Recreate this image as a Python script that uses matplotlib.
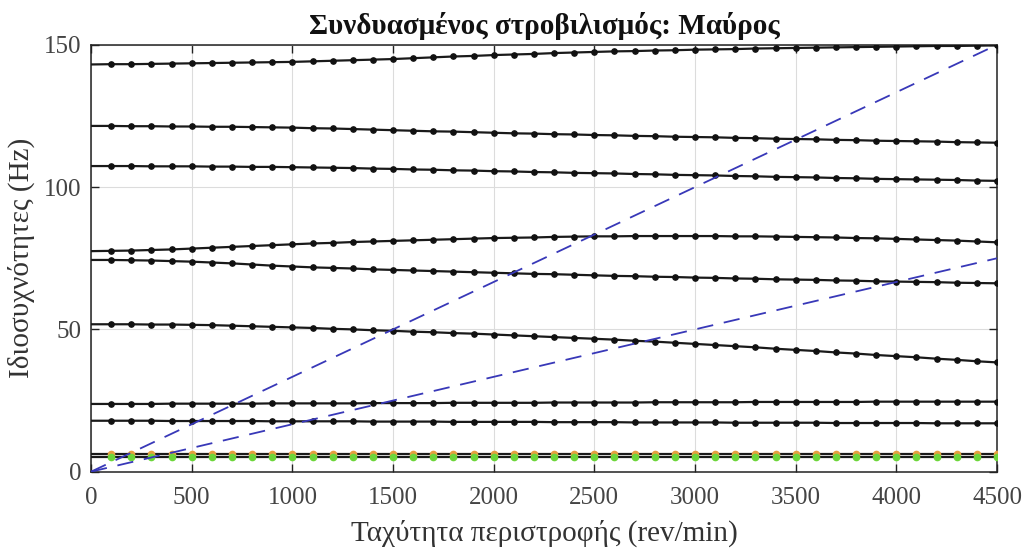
import matplotlib
matplotlib.use("Agg")
import matplotlib.pyplot as plt

plt.rcParams['font.family'] = ['Liberation Serif', 'DejaVu Serif']

# rotor speed grid (rev/min)
rpm = list(range(0, 4501, 100))

# natural frequencies (Hz) per mode, one value every 100 rev/min
mode_1 = [5.2, 5.2, 5.2, 5.2, 5.2, 5.2, 5.2, 5.2, 5.2, 5.2, 5.2, 5.2, 5.2, 5.2, 5.2, 5.2,
          5.2, 5.2, 5.2, 5.2, 5.2, 5.2, 5.2, 5.2, 5.2, 5.2, 5.2, 5.2, 5.2, 5.2, 5.2, 5.2,
          5.2, 5.2, 5.2, 5.2, 5.2, 5.2, 5.2, 5.2, 5.2, 5.2, 5.2, 5.2, 5.2, 5.2]
mode_2 = [6.2, 6.2, 6.2, 6.2, 6.2, 6.2, 6.2, 6.2, 6.2, 6.2, 6.2, 6.2, 6.2, 6.2, 6.2, 6.2,
          6.2, 6.2, 6.2, 6.2, 6.2, 6.2, 6.2, 6.2, 6.2, 6.2, 6.2, 6.2, 6.2, 6.2, 6.2, 6.2,
          6.2, 6.2, 6.2, 6.2, 6.2, 6.2, 6.2, 6.2, 6.2, 6.2, 6.2, 6.2, 6.2, 6.2]
mode_3 = [17.9, 17.9, 17.9, 17.9, 17.8, 17.8,
          17.8, 17.8, 17.8, 17.7, 17.7,
          17.7, 17.7, 17.7, 17.6, 17.6,
          17.6, 17.6, 17.5, 17.5, 17.5,
          17.5, 17.5, 17.4, 17.4, 17.4,
          17.4, 17.3, 17.3, 17.3, 17.3,
          17.3, 17.2, 17.2, 17.2, 17.2,
          17.2, 17.1, 17.1, 17.1, 17.1,
          17.1, 17.0, 17.0, 17.0, 17.0]
mode_4 = [23.8, 23.8, 23.8, 23.8, 23.9, 23.9,
          23.9, 23.9, 23.9, 24.0, 24.0,
          24.0, 24.0, 24.0, 24.1, 24.1,
          24.1, 24.1, 24.2, 24.2, 24.2,
          24.2, 24.2, 24.3, 24.3, 24.3,
          24.3, 24.3, 24.4, 24.4, 24.4,
          24.4, 24.4, 24.5, 24.5, 24.5,
          24.5, 24.5, 24.5, 24.6, 24.6,
          24.6, 24.6, 24.6, 24.6, 24.6]
mode_5 = [51.8, 51.8, 51.8, 51.7, 51.7, 51.6,
          51.5, 51.3, 51.1, 50.9, 50.7,
          50.5, 50.2, 50.0, 49.7, 49.5,
          49.2, 49.0, 48.7, 48.5, 48.2,
          47.9, 47.6, 47.3, 47.0, 46.7,
          46.4, 46.0, 45.7, 45.3, 44.9,
          44.5, 44.1, 43.7, 43.2, 42.8,
          42.4, 41.9, 41.5, 41.0, 40.6,
          40.2, 39.7, 39.3, 38.8, 38.4]
mode_6 = [74.4, 74.4, 74.3, 74.2, 74.0, 73.8,
          73.5, 73.2, 72.8, 72.4, 72.1,
          71.8, 71.6, 71.4, 71.1, 70.9,
          70.7, 70.5, 70.3, 70.1, 69.9,
          69.7, 69.5, 69.4, 69.2, 69.0,
          68.8, 68.7, 68.5, 68.4, 68.2,
          68.1, 67.9, 67.8, 67.6, 67.5,
          67.4, 67.2, 67.1, 66.9, 66.8,
          66.7, 66.6, 66.4, 66.3, 66.2]
mode_7 = [77.5, 77.6, 77.7, 77.9, 78.1, 78.4,
          78.7, 79.0, 79.3, 79.6, 79.9,
          80.2, 80.4, 80.7, 80.9, 81.1,
          81.3, 81.5, 81.7, 81.9, 82.1,
          82.2, 82.3, 82.5, 82.6, 82.7,
          82.7, 82.8, 82.8, 82.8, 82.8,
          82.8, 82.7, 82.7, 82.6, 82.5,
          82.4, 82.3, 82.1, 82.0, 81.8,
          81.6, 81.4, 81.2, 80.9, 80.6]
mode_8 = [107.4, 107.4, 107.4, 107.3, 107.3, 107.3,
          107.2, 107.2, 107.1, 107.1, 107.0,
          106.9, 106.8, 106.7, 106.5, 106.4,
          106.2, 106.1, 105.9, 105.8, 105.6,
          105.5, 105.3, 105.2, 105.0, 104.9,
          104.8, 104.6, 104.5, 104.3, 104.2,
          104.1, 103.9, 103.8, 103.6, 103.5,
          103.4, 103.2, 103.1, 102.9, 102.8,
          102.7, 102.6, 102.5, 102.3, 102.2]
mode_9 = [121.5, 121.5, 121.4, 121.4, 121.3, 121.3,
          121.2, 121.2, 121.1, 121.0, 120.9,
          120.7, 120.6, 120.4, 120.2, 120.0,
          119.8, 119.6, 119.5, 119.3, 119.1,
          118.9, 118.8, 118.6, 118.5, 118.3,
          118.2, 118.0, 117.9, 117.7, 117.6,
          117.5, 117.3, 117.2, 117.0, 116.9,
          116.8, 116.6, 116.5, 116.3, 116.2,
          116.1, 116.0, 115.8, 115.7, 115.6]
mode_10 = [143.1, 143.2, 143.2, 143.3, 143.4, 143.5,
           143.6, 143.7, 143.8, 143.9, 144.0,
           144.2, 144.4, 144.6, 144.8, 145.0,
           145.3, 145.6, 145.9, 146.1, 146.4,
           146.6, 146.8, 147.1, 147.3, 147.5,
           147.7, 147.8, 148.0, 148.1, 148.3,
           148.4, 148.5, 148.7, 148.8, 148.9,
           149.0, 149.1, 149.2, 149.3, 149.4,
           149.5, 149.6, 149.6, 149.7, 149.8]

# excitation lines 1X and 2X
speed_ends = [0, 4500]
excitation_1x = [0, 75]
excitation_2x = [0, 150]

fig = plt.figure(figsize=(10.23, 5.5), dpi=100)
ax = fig.add_axes([0.089, 0.1424, 0.8856, 0.7761])

for mode in [mode_3, mode_4, mode_5, mode_6, mode_7, mode_8, mode_9, mode_10]:
    ax.plot(rpm, mode, '-', color='#1a1a1a', lw=1.6, marker='o', ms=3.8,
            mfc='#111111', mec='#111111', markevery=slice(1, None), zorder=3)

ax.plot(rpm, mode_2, '-', color='#1a1a1a', lw=1.6, marker='o', ms=4.5,
        mfc='#e6a040', mec='#e6a040', markevery=slice(1, None), zorder=3)
ax.plot(rpm, mode_1, '-', color='#1a1a1a', lw=1.6, marker='o', ms=4.5,
        mfc='#6cd63a', mec='#6cd63a', markevery=slice(1, None), zorder=3)

ax.plot(speed_ends, excitation_2x, '--', color='#3838b8', lw=1.3, dashes=(9, 6), zorder=4)
ax.plot(speed_ends, excitation_1x, '--', color='#3838b8', lw=1.3, dashes=(9, 6), zorder=4)

ax.set_xlim(0, 4500)
ax.set_ylim(0, 150)
ax.set_xticks(range(0, 4501, 500))
ax.set_yticks([0, 50, 100, 150])
ax.grid(True, color='#dcdcdc', lw=0.8)
ax.set_axisbelow(True)
ax.tick_params(direction='in', top=True, right=True, length=6, width=1,
               labelsize=18, colors='#222222', labelcolor='#444444', pad=7)
ax.tick_params(axis='x', pad=11)
for s in ax.spines.values():
    s.set_linewidth(1.1)
    s.set_color('#222222')

ax.set_xlabel('Ταχύτητα περιστροφής (rev/min)', fontsize=21, color='#333333', labelpad=8)
ax.set_ylabel('Ιδιοσυχνότητες (Hz)', fontsize=21, color='#333333', labelpad=6)
ax.set_title('Συνδυασμένος στροβιλισμός: Μαύρος', fontsize=21, fontweight='bold',
             color='#111111', pad=8)

fig.savefig('out.png', dpi=100)
